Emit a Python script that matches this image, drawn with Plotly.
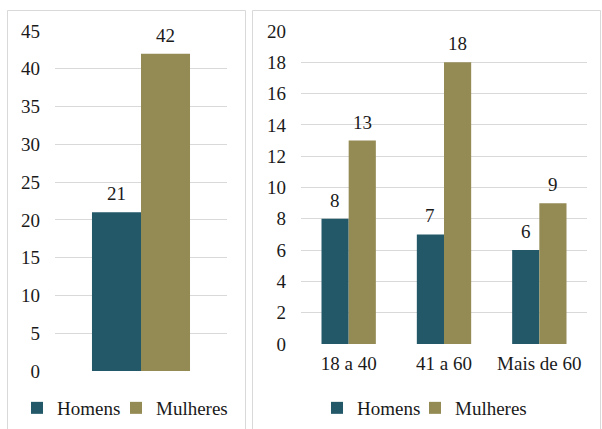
import plotly.graph_objects as go

# Data
series = ["Homens", "Mulheres"]
total_cat = [""]
total_homens = [21]
total_mulheres = [42]
age_groups = ["18 a 40", "41 a 60", "Mais de 60"]
age_homens = [8, 7, 6]
age_mulheres = [13, 18, 9]
left_ticks = [0, 5, 10, 15, 20, 25, 30, 35, 40, 45]
right_ticks = [0, 2, 4, 6, 8, 10, 12, 14, 16, 18, 20]

C_H = "#235868"
C_M = "#948A54"
W, H = 602, 429
FONT = "Liberation Serif"
FS = 19
TXT = "#1a1a1a"
BARGAP = 0.43

def px(x):
    return x / W

def py(y):
    return 1 - y / H

# plot-area pixel extents (layout only)
L_X = (55, 227)
R_X = (301, 587)

fig = go.Figure()
fig.add_trace(go.Bar(x=total_cat, y=total_homens, name=series[0], marker_color=C_H,
                     legendwidth=54, xaxis="x", yaxis="y", legend="legend"))
fig.add_trace(go.Bar(x=total_cat, y=total_mulheres, name=series[1], marker_color=C_M,
                     legendwidth=80, xaxis="x", yaxis="y", legend="legend"))
fig.add_trace(go.Bar(x=age_groups, y=age_homens, name=series[0], marker_color=C_H,
                     legendwidth=53, xaxis="x2", yaxis="y2", legend="legend2"))
fig.add_trace(go.Bar(x=age_groups, y=age_mulheres, name=series[1], marker_color=C_M,
                     legendwidth=80, xaxis="x2", yaxis="y2", legend="legend2"))
fig.update_traces(marker_line_width=0)

# value labels, anchored on the data through the axes (category index)
annotations = []
def add_labels(vals, xref, yref, slot_px, side):
    off = side * slot_px * (1 - BARGAP) / 4
    for i, v in enumerate(vals):
        annotations.append(dict(x=i, y=v, xref=xref, yref=yref, text=str(v),
                                showarrow=False, xanchor="center", yanchor="bottom",
                                xshift=off, yshift=6,
                                font=dict(family=FONT, size=FS, color=TXT)))

slot_l = (L_X[1] - L_X[0]) / len(total_cat)
slot_r = (R_X[1] - R_X[0]) / len(age_groups)
add_labels(total_homens, "x", "y", slot_l, -1)
add_labels(total_mulheres, "x", "y", slot_l, 1)
add_labels(age_homens, "x2", "y2", slot_r, -1)
add_labels(age_mulheres, "x2", "y2", slot_r, 1)

grid = "#D9D9D9"
leg_common = dict(orientation="h", xanchor="left", yanchor="middle", y=py(408),
                  font=dict(family=FONT, size=FS, color=TXT),
                  bgcolor="rgba(0,0,0,0)", tracegroupgap=0)
fig.update_layout(
    width=W, height=H,
    margin=dict(l=0, r=0, t=0, b=0, autoexpand=False),
    paper_bgcolor="white", plot_bgcolor="white",
    font=dict(family=FONT, size=FS, color=TXT),
    barmode="group", bargap=BARGAP, bargroupgap=0,
    xaxis=dict(domain=[px(L_X[0]), px(L_X[1])], type="category",
               range=[-0.5, len(total_cat) - 0.5], showticklabels=False, showgrid=False,
               zeroline=False, showline=False, fixedrange=True, automargin=False),
    yaxis=dict(domain=[py(371), py(31)], range=[0, 45], tickvals=left_ticks,
               showgrid=True, gridcolor=grid, gridwidth=1, zeroline=False,
               showline=False, ticks="", ticklabelstandoff=14, automargin=False),
    xaxis2=dict(domain=[px(R_X[0]), px(R_X[1])], anchor="y2", type="category",
                range=[-0.5, len(age_groups) - 0.5], showgrid=False,
                zeroline=False, showline=False, ticks="", automargin=False,
                ticklabelstandoff=6),
    yaxis2=dict(domain=[py(344), py(31)], anchor="x2", range=[0, 20], tickvals=right_ticks,
                showgrid=True, gridcolor=grid, gridwidth=1, zeroline=False,
                showline=False, ticks="", ticklabelstandoff=14, automargin=False),
    legend=dict(x=px(17), **leg_common),
    legend2=dict(x=px(317), **leg_common),
    annotations=annotations,
    shapes=[
        dict(type="rect", xref="paper", yref="paper", x0=px(7.5), x1=px(245.5),
             y0=py(440), y1=py(10.5), line=dict(color="#D9D9D9", width=1)),
        dict(type="rect", xref="paper", yref="paper", x0=px(252.5), x1=px(600.5),
             y0=py(440), y1=py(10.5), line=dict(color="#D9D9D9", width=1)),
    ],
    showlegend=True,
)

fig.write_html("out.html")
